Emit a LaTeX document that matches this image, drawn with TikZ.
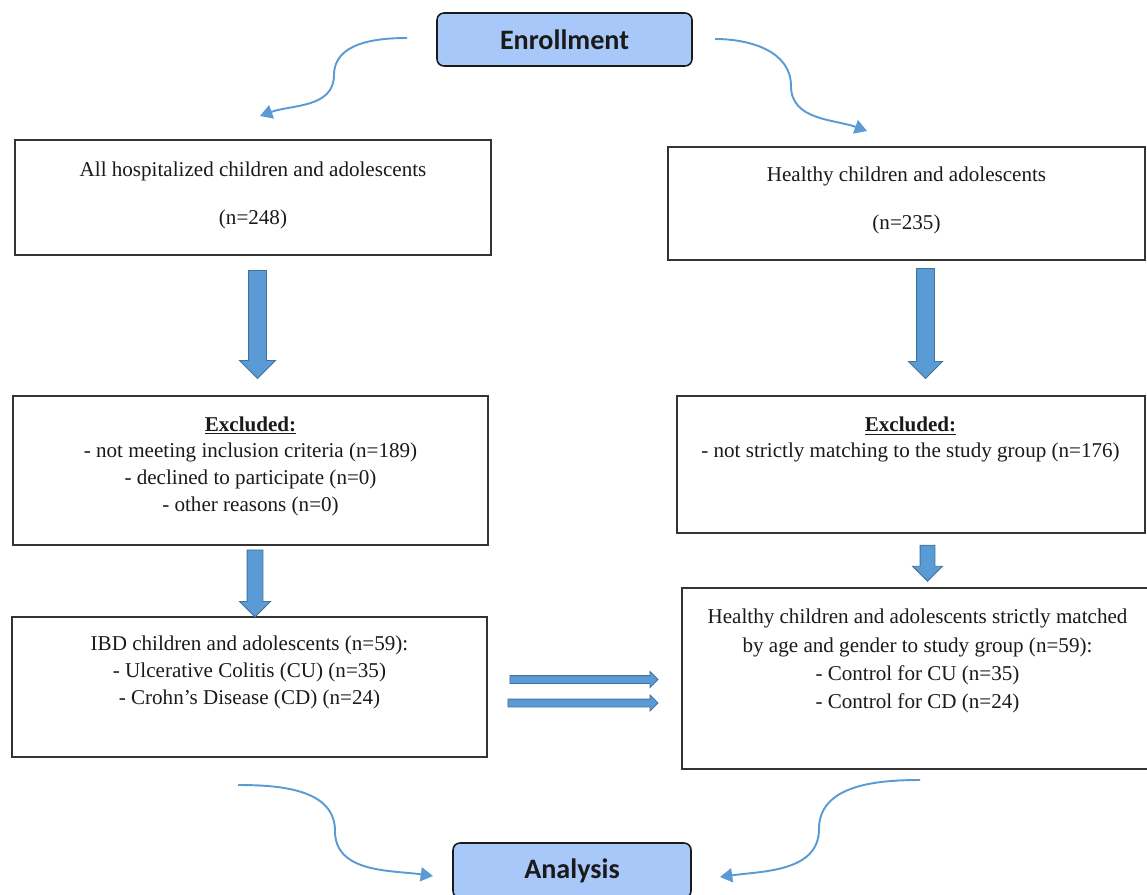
\documentclass[tikz,border=0pt]{standalone}
\usepackage{fontspec}
\setmainfont{Liberation Serif}
\newfontfamily\headfont{Carlito}
\usetikzlibrary{arrows.meta,positioning,shapes.arrows}
\definecolor{ink}{HTML}{1A1A1A}
\definecolor{frame}{HTML}{333333}
\definecolor{skyfill}{HTML}{A9C8FA}
\definecolor{flowblue}{HTML}{5B9BD5}
\definecolor{flowedge}{HTML}{41719C}
\definecolor{curveblue}{HTML}{5B9BD5}
\tikzset{
  >=Latex,
  every node/.style={font=\fontsize{12}{15.2}\selectfont,text=ink},
  box/.style={draw=frame,line width=1pt,fill=white,inner sep=0pt},
  txt/.style={align=center,inner sep=0pt},
  phase/.style={draw=ink,line width=0.9pt,rounded corners=4pt,fill=skyfill,font=\headfont\bfseries\fontsize{16}{18}\selectfont},
  blockarr/.style={single arrow,draw=flowedge,fill=flowblue,line width=0.5pt,inner xsep=0pt},
  downarr/.style={blockarr,rotate=-90},
  curvearr/.style={draw=curveblue,line width=1.1pt,-{Triangle[length=7pt,width=8pt]}}
}

\begin{document}
\begin{tikzpicture}
  \useasboundingbox (0,0) rectangle (22.94,-17.9);

  % phases
  \node[phase,minimum width=5.1cm,minimum height=1.06cm] (enroll) at (11.29,-0.79) {Enrollment};
  \node[phase,minimum width=4.76cm,minimum height=1.1cm] (analysis) at (11.44,-17.41) {Analysis};

  % left column
  \node[box,minimum width=9.52cm,minimum height=2.30cm] (hosp) at (5.06,-3.95) {};
  \node[txt] (hospt) at (5.06,-3.91) {All hospitalized children and adolescents\\[11.8pt](n=248)};
  \node[box,minimum width=9.50cm,minimum height=2.98cm] (exclA) at (5.01,-9.41) {};
  \node[txt] (exclAt) at (5.01,-9.32) {\underline{\textbf{Excluded:}}\\- not meeting inclusion criteria (n=189)\\- declined to participate (n=0)\\- other reasons (n=0)};
  \node[box,minimum width=9.50cm,minimum height=2.80cm] (ibd) at (4.99,-13.74) {};
  \node[txt] (ibdt) at (4.99,-13.45) {IBD children and adolescents (n=59):\\- Ulcerative Colitis (CU) (n=35)\\- Crohn’s Disease (CD) (n=24)};

  % right column
  \node[box,minimum width=9.54cm,minimum height=2.26cm] (healthy) at (18.13,-4.07) {};
  \node[txt] (healthyt) at (18.13,-4.01) {Healthy children and adolescents\\[11.8pt](n=235)};
  \node[box,minimum width=9.36cm,minimum height=2.74cm] (exclB) at (18.22,-9.29) {};
  \node[txt] (exclBt) at (18.21,-8.79) {\underline{\textbf{Excluded:}}\\- not strictly matching to the study group (n=176)};
  \node[box,minimum width=9.40cm,minimum height=3.62cm] (ctrl) at (18.34,-13.57) {};
  \node[txt,font=\fontsize{12}{16}\selectfont] (ctrlt) at (18.35,-13.22) {Healthy children and adolescents strictly matched\\by age and gender to study group (n=59):\\- Control for CU (n=35)\\- Control for CD (n=24)};

  % block arrows
  \node[downarr,minimum height=2.16cm,minimum width=0.70cm,inner ysep=0.17cm,single arrow head extend=0.18cm] (dnA1) at (5.15,-6.40) {};
  \node[downarr,minimum height=1.34cm,minimum width=0.60cm,inner ysep=0.15cm,single arrow head extend=0.15cm] (dnA2) at (5.10,-11.59) {};
  \node[downarr,minimum height=2.20cm,minimum width=0.66cm,inner ysep=0.17cm,single arrow head extend=0.16cm] (dnB1) at (18.51,-6.38) {};
  \node[downarr,minimum height=0.72cm,minimum width=0.58cm,inner ysep=0.14cm,single arrow head extend=0.15cm] (dnB2) at (18.55,-11.19) {};
  \node[blockarr,minimum height=2.96cm,minimum width=0.30cm,inner ysep=0.07cm,single arrow head extend=0.08cm] (match1) at (11.64,-13.59) {};
  \node[blockarr,minimum height=3.00cm,minimum width=0.30cm,inner ysep=0.07cm,single arrow head extend=0.08cm] (match2) at (11.62,-14.06) {};

  % curved connectors
  \coordinate (s1) at (8.14,-0.76);  \coordinate (m1) at (6.68,-1.50);  \coordinate (e1) at (5.20,-2.32);
  \coordinate (s2) at (14.30,-0.78); \coordinate (m2) at (15.82,-1.72); \coordinate (e2) at (17.34,-2.62);
  \coordinate (s3) at (4.76,-15.70); \coordinate (m3) at (6.70,-16.62); \coordinate (e3) at (8.66,-17.52);
  \coordinate (s4) at (18.40,-15.60);\coordinate (m4) at (16.38,-16.58);\coordinate (e4) at (14.40,-17.54);
  \draw[curvearr] (s1) to[out=180,in=90] (m1) to[out=-90,in=20] (e1);
  \draw[curvearr] (s2) to[out=0,in=90] (m2) to[out=-90,in=160] (e2);
  \draw[curvearr] (s3) to[out=0,in=90] (m3) to[out=-90,in=172] (e3);
  \draw[curvearr] (s4) to[out=180,in=90] (m4) to[out=-90,in=8] (e4);
\end{tikzpicture}
\end{document}
